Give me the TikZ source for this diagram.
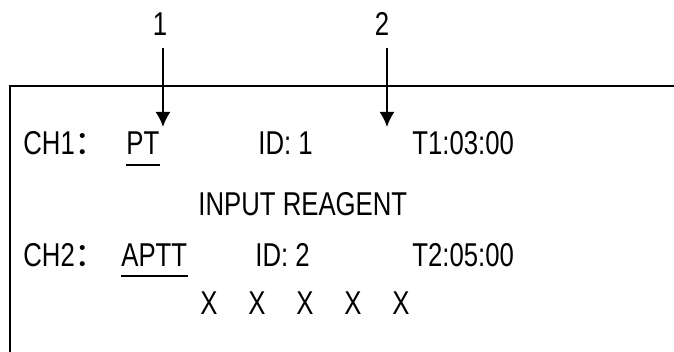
\documentclass[tikz,border=0pt]{standalone}
\usepackage{fontspec}
\setmainfont[FakeStretch=0.78]{Liberation Sans}
\newfontfamily\cjk{Noto Sans CJK SC}
\usetikzlibrary{arrows.meta}
\begin{document}
\begin{tikzpicture}[x=0.5pt,y=-0.5pt,
  txt/.style={anchor=base west,inner sep=0pt,font=\fontsize{16.5}{19}\selectfont},
  num/.style={inner sep=0pt,font=\fontsize{16.5}{19}\selectfont},
  arr/.style={-{Latex[length=7.5pt,width=7.5pt]},line width=1pt},
  uline/.style={line width=0.75pt}]
\useasboundingbox (0,0) rectangle (674,352);
\draw[line width=1pt] (674,86) -- (10,86) -- (10,352);
\node[num] (l1) at (160,24) {1};
\node[num] (l2) at (382,24) {2};
\coordinate (a1) at (163,127);
\coordinate (a2) at (387,127);
\draw[arr, shorten <=6pt] (l1.south -| a1) -- (a1);
\draw[arr, shorten <=6pt] (l2.south -| a2) -- (a2);
\node[txt] (ch1) at (23,155) {CH1{\cjk ：}};
\node[txt] (pt) at (126,155) {PT};
\node[txt] (id1) at (258,155) {ID: 1};
\node[txt] (t1) at (412,155) {T1:03:00};
\node[txt] (msg) at (198,216) {INPUT REAGENT};
\node[txt] (ch2) at (23,266) {CH2{\cjk ：}};
\node[txt] (aptt) at (121,266) {APTT};
\node[txt] (id2) at (255,266) {ID: 2};
\node[txt] (t2) at (412,266) {T2:05:00};
\foreach \i in {0,...,4}
  \node[txt] (x\i) at (200+48*\i,314) {X};
\draw[uline] ([yshift=-5pt]pt.base west) -- ([yshift=-5pt]pt.base east);
\draw[uline] ([yshift=-5pt]aptt.base west) -- ([yshift=-5pt]aptt.base east);
\end{tikzpicture}
\end{document}
